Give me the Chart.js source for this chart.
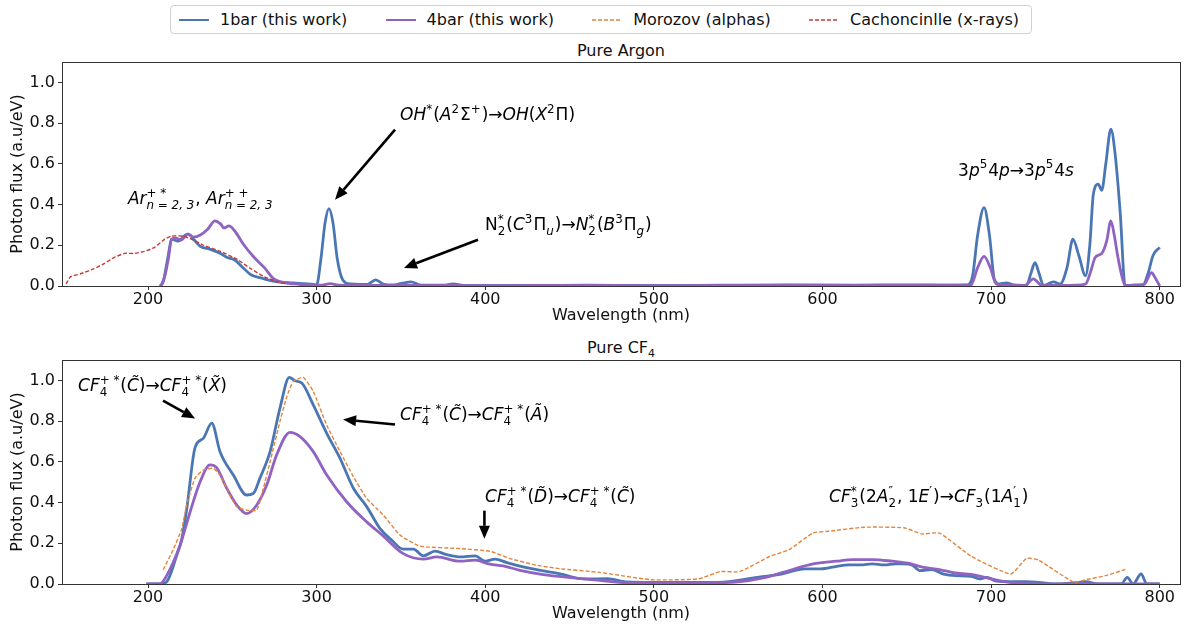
<!DOCTYPE html>
<html>
<head>
<meta charset="utf-8">
<script src="https://cdn.jsdelivr.net/npm/chart.js@4"></script>
<style>
  body { margin: 0; background: #fff; font-family: 'DejaVu Sans', sans-serif; }
  #wrap { position: relative; width: 1197px; height: 630px; }
  canvas { position: absolute; left: 0; }
  .title { position: absolute; left: 62px; width: 1118px; text-align: center; font-size: 16px; color: #111; }
  .title sub { font-size: 11px; color: #111; }
  #legend { position: absolute; top: 5px; left: 170px; width: 862px; height: 29px; box-sizing: border-box;
            border: 1px solid #d0d0d0; border-radius: 4px; display: flex; align-items: center;
            justify-content: space-between; padding: 0 12px 0 8px; font-size: 16px; color: #111; }
  .item { display: flex; align-items: center; }
  .item svg { margin-right: 11px; }
</style>
</head>
<body>
<div id="wrap">
  <div id="legend"></div>
  <div class="title" style="top:41px">Pure Argon</div>
  <div class="title" style="top:338px">Pure CF<sub>4</sub></div>
  <canvas id="topChart" width="1197" height="290" style="top:38px"></canvas>
  <canvas id="botChart" width="1197" height="290" style="top:336px"></canvas>
</div>
<script>
// ---- data (wavelength in nm, photon flux in a.u/eV) ----
const xTicks = [200, 300, 400, 500, 600, 700, 800];
const yTicks = [0, 0.2, 0.4, 0.6, 0.8, 1.0];

// Pure Argon
const ar1barX = [207, 209, 212, 214, 218, 222, 224, 227, 231, 237,
                 243, 247, 251, 257, 261, 267, 271, 277, 286, 298,
                 300, 302.5, 305, 307.3, 309.7, 312.3, 315.5, 320, 326, 330,
                 335, 340, 346, 351, 356, 361, 368, 375, 381, 387,
                 400, 430, 460, 500, 540, 580, 620, 650, 675, 686,
                 689, 692, 695.8, 699, 702, 705, 709, 714, 721, 723.5,
                 726, 728.5, 731, 737, 741, 745, 748.5, 752, 756, 758.5,
                 760.6, 763.5, 765.6, 768, 771, 773.5, 776.5, 779.5, 785, 790,
                 793, 796, 800];
const ar1barY = [0, 0.02, 0.15, 0.23, 0.22, 0.25, 0.255, 0.23, 0.195, 0.18,
                 0.16, 0.14, 0.13, 0.085, 0.055, 0.04, 0.03, 0.02, 0.015, 0.008,
                 0.006, 0.13, 0.31, 0.38, 0.31, 0.13, 0.03, 0.01, 0.008, 0.008,
                 0.03, 0.008, 0.005, 0.014, 0.02, 0.006, 0.004, 0.004, 0.01, 0.003,
                 0.003, 0.002, 0.004, 0.003, 0.004, 0.005, 0.004, 0.006, 0.004, 0.005,
                 0.05, 0.25, 0.385, 0.25, 0.03, 0.01, 0.015, 0.005, 0.003, 0.06,
                 0.115, 0.06, 0.003, 0.02, 0.01, 0.09, 0.23, 0.15, 0.05, 0.2,
                 0.45, 0.5, 0.47, 0.6, 0.77, 0.65, 0.365, 0.0, 0.005, 0.005,
                 0.06, 0.15, 0.19];
const ar4barX = [207.7, 210, 212, 214, 216.6, 219.5, 223.7, 227, 231, 235.5,
                 239.7, 243, 245, 248, 251, 257, 263, 269, 274.6, 279,
                 286.5, 295, 303, 308, 313, 330, 360, 400, 450, 500,
                 550, 600, 640, 670, 688, 692, 695.8, 699.5, 703, 710,
                 720, 725, 730, 740, 750, 756, 759, 761.7, 765.6, 768.5,
                 771, 773, 775, 777.5, 779.5, 786, 791, 795, 798, 800];
const ar4barY = [0, 0.05, 0.13, 0.23, 0.235, 0.225, 0.255, 0.24, 0.25, 0.28,
                 0.32, 0.305, 0.285, 0.295, 0.275, 0.2, 0.14, 0.09, 0.035, 0.02,
                 0.01, 0.005, 0.004, 0.012, 0.004, 0.003, 0.003, 0.002, 0.003, 0.002,
                 0.003, 0.004, 0.003, 0.004, 0.004, 0.09, 0.145, 0.09, 0.01, 0.003,
                 0.003, 0.035, 0.003, 0.003, 0.004, 0.01, 0.07, 0.14, 0.16, 0.22,
                 0.32, 0.25, 0.15, 0.05, 0.003, 0.003, 0.01, 0.065, 0.03, 0.0];
const arXrayX = [151.4, 154, 160, 168, 174, 180, 186, 192, 198, 204,
                 210, 214, 221, 227, 233, 243, 253, 261, 269, 277, 283];
const arXrayY = [0.01, 0.045, 0.06, 0.085, 0.11, 0.14, 0.16, 0.16, 0.17, 0.19,
                 0.23, 0.245, 0.245, 0.225, 0.2, 0.17, 0.13, 0.085, 0.045, 0.02, 0.01];

// Pure CF4
const cf1barX = [199, 207, 211, 217, 220, 223, 227.9, 232.8, 237.8, 242.7,
                 250.6, 258.5, 262.5, 266.4, 272.4, 278.3, 283.8, 287.2, 291.2, 298,
                 306, 313.9, 321.8, 329.7, 337.6, 344, 351.4, 357.4, 363.3, 370.2,
                 377.2, 385, 394, 400, 405.8, 412.8, 418.7, 430.5, 444.4, 458.4,
                 472.4, 484.2, 500, 538, 561.5, 575.6, 589.7, 599, 608.4, 615.4,
                 622.5, 629.5, 636.5, 643.6, 648.3, 653, 657.7, 664.7, 671.8, 678.8,
                 688.2, 692.9, 697.6, 702.3, 714, 721, 728, 739.8, 749.1, 756.1,
                 763.1, 777.2, 780.7, 784.2, 788.9, 792.4, 800];
const cf1barY = [0, 0, 0.01, 0.14, 0.22, 0.37, 0.67, 0.715, 0.79, 0.65,
                 0.535, 0.437, 0.445, 0.52, 0.65, 0.865, 1.015, 0.998, 0.987, 0.88,
                 0.74, 0.617, 0.47, 0.38, 0.272, 0.22, 0.171, 0.171, 0.138, 0.161,
                 0.144, 0.133, 0.138, 0.112, 0.122, 0.105, 0.092, 0.07, 0.05, 0.025,
                 0.026, 0.01, 0.008, 0.008, 0.033, 0.049, 0.074, 0.074, 0.087, 0.094,
                 0.094, 0.099, 0.094, 0.099, 0.099, 0.094, 0.066, 0.071, 0.049, 0.041,
                 0.038, 0.025, 0.033, 0.016, 0.011, 0.011, 0.008, 0, 0.005, 0.011,
                 0, 0, 0.033, 0, 0.049, 0, 0];
const cf4barX = [199, 207, 211, 219, 225, 230.8, 236.8, 240.7, 246.7, 252.6,
                 258.5, 264.5, 270.4, 276.3, 284.2, 290.2, 298, 306, 317.8, 329.7,
                 339.6, 351.4, 363.3, 371.2, 385, 394, 402.8, 410.7, 420.6, 434.4,
                 452.2, 468, 484, 526, 549.8, 566.3, 580.3, 594.4, 608.4, 617.8,
                 629.5, 641.3, 650.6, 660, 669.4, 678.8, 690.5, 702.3, 714, 733.5, 800];
const cf4barY = [0, 0, 0.04, 0.19, 0.355, 0.5, 0.585, 0.571, 0.47, 0.388,
                 0.346, 0.388, 0.486, 0.634, 0.745, 0.724, 0.65, 0.535, 0.404, 0.305,
                 0.235, 0.149, 0.122, 0.133, 0.112, 0.117, 0.097, 0.089, 0.067, 0.046,
                 0.03, 0.018, 0.006, 0.005, 0.011, 0.033, 0.066, 0.099, 0.112, 0.12,
                 0.12, 0.112, 0.102, 0.082, 0.071, 0.054, 0.044, 0.021, 0.005, 0, 0];
const cfAlphaX = [209, 215, 220, 223, 227.9, 232.8, 238.7, 242.7, 248.6, 252.6,
                  258.5, 264.5, 268.4, 272.4, 278.3, 282.3, 286.2, 292.1, 298, 306,
                  313.9, 321.8, 329.7, 339.6, 349.5, 361.3, 385, 402.8, 414.7, 430.5,
                  444.4, 467.8, 498.3, 526.4, 539.3, 551, 568.6, 580.3, 594.4, 603.8,
                  624.9, 648.3, 658.9, 669.4, 688.2, 711.6, 721, 728, 749.1, 756.1, 767.9, 779.6];
const cfAlphaY = [0.07, 0.17, 0.27, 0.39, 0.52, 0.56, 0.568, 0.535, 0.437, 0.38,
                  0.363, 0.363, 0.47, 0.6, 0.8, 0.92, 0.995, 1.015, 0.946, 0.78,
                  0.65, 0.527, 0.42, 0.338, 0.24, 0.186, 0.174, 0.161, 0.125, 0.092,
                  0.075, 0.057, 0.021, 0.025, 0.061, 0.061, 0.135, 0.169, 0.251, 0.259,
                  0.279, 0.276, 0.246, 0.25, 0.136, 0.049, 0.126, 0.118, 0.008, 0.021, 0.041, 0.071];

// ---- styles ----
const FAM = "'DejaVu Sans', sans-serif";
const C_1BAR = '#4a77b4';
const C_4BAR = '#9063c2';
const C_ALPHA = '#e3843a';
const C_XRAY = '#c8383a';

const legendItems = [
  ['1bar (this work)', C_1BAR, false],
  ['4bar (this work)', C_4BAR, false],
  ['Morozov (alphas)', C_ALPHA, true],
  ['Cachoncinlle (x-rays)', C_XRAY, true]
];
document.getElementById('legend').innerHTML = legendItems.map(([t, c, dash]) =>
  `<div class="item"><svg width="30" height="6"><line x1="0" y1="3" x2="30" y2="3" stroke="${c}"
   stroke-width="${dash ? 1.5 : 2}" ${dash ? 'stroke-dasharray="4,2"' : ''}/></svg>${t}</div>`).join('');

const pts = (xs, ys) => xs.map((x, i) => ({ x: x, y: ys[i] }));

function solid(label, xs, ys, color) {
  return { label, data: pts(xs, ys), borderColor: color, borderWidth: 2.8,
           pointRadius: 0, cubicInterpolationMode: 'monotone', fill: false };
}
function dashed(label, xs, ys, color) {
  return { label, data: pts(xs, ys), borderColor: color, borderWidth: 1.4,
           borderDash: [4, 2], pointRadius: 0, tension: 0.15, fill: false };
}

// text with sub/superscripts: flags i=italic, u=sup, d=sub, s=stacked sup+sub
function drawRich(ctx, segs, x, y, size) {
  const small = size * 0.7;
  const font = (it, sz) => (it ? 'italic ' : '') + sz + 'px ' + FAM;
  let cx = x;
  ctx.fillStyle = '#000';
  ctx.textBaseline = 'alphabetic';
  ctx.textAlign = 'left';
  segs.forEach(([t, f]) => {
    const it = f.includes('i');
    if (f.includes('s')) {
      ctx.font = font(it, small);
      ctx.fillText(t[0], cx, y - size * 0.42);
      ctx.fillText(t[1], cx, y + size * 0.3);
      cx += Math.max(ctx.measureText(t[0]).width, ctx.measureText(t[1]).width) + 1;
    } else if (f.includes('u') || f.includes('d')) {
      ctx.font = font(it, small);
      ctx.fillText(t, cx, f.includes('u') ? y - size * 0.42 : y + size * 0.3);
      cx += ctx.measureText(t).width + 1;
    } else {
      ctx.font = font(it, size);
      ctx.fillText(t, cx, y);
      cx += ctx.measureText(t).width;
    }
  });
}

function drawArrow(ctx, x1, y1, x2, y2) {
  const ang = Math.atan2(y2 - y1, x2 - x1);
  const L = 13, W = 5.5;
  const bx = x2 - L * Math.cos(ang), by = y2 - L * Math.sin(ang);
  ctx.strokeStyle = '#000';
  ctx.lineWidth = 2.6;
  ctx.beginPath(); ctx.moveTo(x1, y1); ctx.lineTo(bx, by); ctx.stroke();
  ctx.fillStyle = '#000';
  ctx.beginPath();
  ctx.moveTo(x2, y2);
  ctx.lineTo(bx - W * Math.sin(ang), by + W * Math.cos(ang));
  ctx.lineTo(bx + W * Math.sin(ang), by - W * Math.cos(ang));
  ctx.closePath(); ctx.fill();
}

const notesPlugin = {
  id: 'notes',
  afterDraw(chart, args, opts) {
    const ctx = chart.ctx, a = chart.chartArea;
    const sx = chart.scales.x, sy = chart.scales.y;
    ctx.save();
    ctx.strokeStyle = '#333'; ctx.lineWidth = 1;
    ctx.strokeRect(Math.round(a.left) + 0.5, Math.round(a.top) + 0.5,
                   Math.round(a.right - a.left), Math.round(a.bottom - a.top));
    (opts.arrows || []).forEach(([x1, y1, x2, y2]) =>
      drawArrow(ctx, sx.getPixelForValue(x1), sy.getPixelForValue(y1),
                sx.getPixelForValue(x2), sy.getPixelForValue(y2)));
    (opts.texts || []).forEach(n =>
      drawRich(ctx, n.segs, sx.getPixelForValue(n.x), sy.getPixelForValue(n.y), 17));
    ctx.restore();
  }
};

function makeChart(id, datasets, texts, arrows) {
  return new Chart(document.getElementById(id), {
    type: 'line',
    data: { datasets },
    options: {
      responsive: false,
      animation: false,
      layout: { padding: { top: 24, right: 17, left: 0, bottom: 0 } },
      plugins: { legend: { display: false }, tooltip: { enabled: false }, notes: { texts, arrows } },
      scales: {
        x: {
          type: 'linear', min: 149, max: 812,
          afterBuildTicks: s => { s.ticks = xTicks.map(v => ({ value: v })); },
          afterFit: s => { s.height = 42; },
          grid: { display: true, drawOnChartArea: false, tickLength: 4, color: '#333' },
          border: { display: false },
          ticks: { font: { size: 16, family: FAM }, color: '#111', padding: 0, maxRotation: 0,
                   callback: v => String(v) },
          title: { display: true, text: 'Wavelength (nm)', font: { size: 16, family: FAM }, color: '#111',
                   padding: { top: 0, bottom: 3 } }
        },
        y: {
          type: 'linear', min: 0, max: 1.1,
          afterBuildTicks: s => { s.ticks = yTicks.map(v => ({ value: v })); },
          afterFit: s => { s.width = 62; },
          grid: { display: true, drawOnChartArea: false, tickLength: 4, color: '#333' },
          border: { display: false },
          ticks: { font: { size: 16, family: FAM }, color: '#111', padding: 3,
                   callback: v => Number(v).toFixed(1) },
          title: { display: true, text: 'Photon flux (a.u/eV)', font: { size: 16, family: FAM }, color: '#111',
                   padding: { top: 8, bottom: 2 } }
        }
      }
    },
    plugins: [notesPlugin]
  });
}

makeChart('topChart', [
  dashed('Cachoncinlle (x-rays)', arXrayX, arXrayY, C_XRAY),
  solid('4bar (this work)', ar4barX, ar4barY, C_4BAR),
  solid('1bar (this work)', ar1barX, ar1barY, C_1BAR)
], [
  { x: 188.1, y: 0.404, segs: [['Ar', 'i'], [['+ *', 'n = 2, 3'], 'si'], [', ', 'r'], ['Ar', 'i'], [['+ +', 'n = 2, 3'], 'si']] },
  { x: 349.5, y: 0.813, segs: [['OH', 'i'], ['*', 'u'], ['(', 'r'], ['A', 'i'], ['2', 'u'], ['Σ', 'r'], ['+', 'u'],
                                [')→', 'r'], ['OH', 'i'], ['(', 'r'], ['X', 'i'], ['2', 'u'], ['Π)', 'r']] },
  { x: 399.9, y: 0.276, segs: [['N', 'r'], [['*', '2'], 's'], ['(', 'r'], ['C', 'i'], ['3', 'u'], ['Π', 'r'], ['u', 'di'],
                                [')→', 'r'], ['N', 'i'], [['*', '2'], 's'], ['(', 'r'], ['B', 'i'], ['3', 'u'], ['Π', 'r'], ['g', 'di'], [')', 'r']] },
  { x: 680.4, y: 0.542, segs: [['3', 'r'], ['p', 'i'], ['5', 'u'], ['4', 'r'], ['p', 'i'], ['→3', 'r'], ['p', 'i'], ['5', 'u'], ['4', 'r'], ['s', 'i']] }
], [
  [346.5, 0.768, 310.9, 0.424],
  [395.7, 0.227, 351.8, 0.089]
]);

makeChart('botChart', [
  dashed('Morozov (alphas)', cfAlphaX, cfAlphaY, C_ALPHA),
  solid('4bar (this work)', cf4barX, cf4barY, C_4BAR),
  solid('1bar (this work)', cf1barX, cf1barY, C_1BAR)
], [
  { x: 158.5, y: 0.946, segs: [['CF', 'i'], [['+ *', '4'], 's'], ['(', 'r'], ['C\u0303', 'i'], [')→', 'r'],
                                ['CF', 'i'], [['+ *', '4'], 's'], ['(', 'r'], ['X\u0303', 'i'], [')', 'r']] },
  { x: 349.5, y: 0.805, segs: [['CF', 'i'], [['+ *', '4'], 's'], ['(', 'r'], ['C\u0303', 'i'], [')→', 'r'],
                                ['CF', 'i'], [['+ *', '4'], 's'], ['(', 'r'], ['A\u0303', 'i'], [')', 'r']] },
  { x: 399.9, y: 0.404, segs: [['CF', 'i'], [['+ *', '4'], 's'], ['(', 'r'], ['D\u0303', 'i'], [')→', 'r'],
                                ['CF', 'i'], [['+ *', '4'], 's'], ['(', 'r'], ['C\u0303', 'i'], [')', 'r']] },
  { x: 603.9, y: 0.404, segs: [['CF', 'i'], [['*', '3'], 's'], ['(2', 'r'], ['A', 'i'], [['″', '2'], 's'], [', 1', 'r'],
                                ['E', 'i'], ['′', 'u'], [')→', 'r'], ['CF', 'i'], ['3', 'd'], ['(1', 'r'], ['A', 'i'], [['′', '1'], 's'], [')', 'r']] }
], [
  [208.9, 0.90, 227.9, 0.813],
  [346.5, 0.783, 315.7, 0.808],
  [399.5, 0.36, 399.5, 0.222]
]);
</script>
</body>
</html>
